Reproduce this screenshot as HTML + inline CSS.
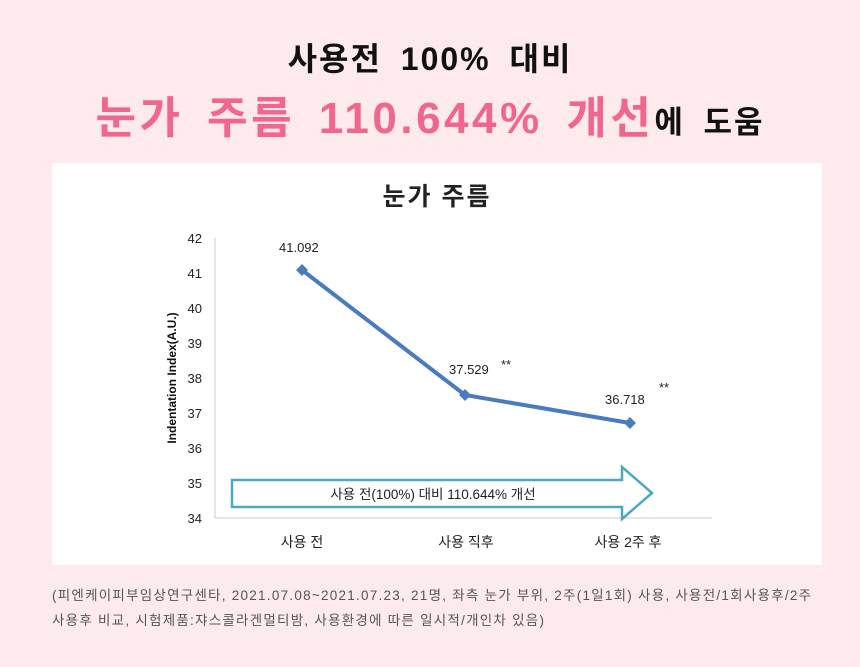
<!DOCTYPE html>
<html><head><meta charset="utf-8"><style>
body{margin:0;width:860px;height:667px;background:#fdeaec;font-family:"Liberation Sans","Noto Sans CJK KR",sans-serif;position:relative;overflow:hidden}
.t1{position:absolute;top:34px;left:0;width:860px;text-align:center;font-size:32px;font-weight:bold;color:#111;letter-spacing:2px;word-spacing:8px}
.t2{position:absolute;top:82px;left:0;width:860px;text-align:center;font-size:44px;font-weight:bold;color:#f0668f;letter-spacing:3.5px;word-spacing:8px;white-space:nowrap}
.t2 span{color:#111;font-size:31px;letter-spacing:2px}
.panel{position:absolute;left:52px;top:163px;width:770px;height:402px;background:#fff}
.note{position:absolute;left:52px;top:583px;width:800px;font-size:13.5px;color:#555;line-height:25px;letter-spacing:1.25px;white-space:nowrap}
</style></head><body>
<div class="t1">사용전 100% 대비</div>
<div class="t2">눈가 주름 110.644% 개선<span>에 도움</span></div>
<div class="panel"></div>
<svg style="position:absolute;left:0;top:0" width="860" height="667">
<text x="437" y="205" text-anchor="middle" font-size="25" font-weight="bold" letter-spacing="2" fill="#222" font-family="Liberation Sans,Noto Sans CJK KR,sans-serif">눈가 주름</text>
<g font-size="13" fill="#222" font-family="Liberation Sans,Noto Sans CJK KR,sans-serif" text-anchor="end">
<text x="202" y="243">42</text><text x="202" y="278">41</text><text x="202" y="313">40</text><text x="202" y="348">39</text><text x="202" y="383">38</text><text x="202" y="418">37</text><text x="202" y="453">36</text><text x="202" y="488">35</text><text x="202" y="523">34</text>
</g>
<text transform="translate(176,378) rotate(-90)" text-anchor="middle" font-size="12" font-weight="bold" fill="#111" font-family="Liberation Sans,sans-serif">Indentation Index(A.U.)</text>
<line x1="215" y1="238" x2="215" y2="518" stroke="#ccc"/>
<line x1="215" y1="518" x2="712" y2="518" stroke="#ccc"/>
<polyline points="302,270 465,395 630,423" fill="none" stroke="#4a7abf" stroke-width="4"/>
<g fill="#4a7abf"><path d="M302,264 L308,270 302,276 296,270Z"/><path d="M465,389 L471,395 465,401 459,395Z"/><path d="M630,417 L636,423 630,429 624,423Z"/></g>
<g font-size="13" fill="#222" font-family="Liberation Sans,sans-serif">
<text x="279" y="252">41.092</text><text x="449" y="374">37.529</text><text x="501" y="369">**</text>
<text x="605" y="404">36.718</text><text x="659" y="392">**</text></g>
<path d="M232,480 H622 V467 L652,493 L622,519 V507 H232Z" fill="#fff" stroke="#4aa8c0" stroke-width="2.5"/>
<text x="433" y="499" text-anchor="middle" font-size="13.5" fill="#222" font-family="Liberation Sans,Noto Sans CJK KR,sans-serif">사용 전(100%) 대비 110.644% 개선</text>
<g font-size="14" fill="#222" font-family="Liberation Sans,Noto Sans CJK KR,sans-serif" text-anchor="middle">
<text x="302" y="547">사용 전</text><text x="466" y="547">사용 직후</text><text x="628" y="547">사용 2주 후</text></g>
</svg>
<div class="note">(피엔케이피부임상연구센타, 2021.07.08~2021.07.23, 21명, 좌측 눈가 부위, 2주(1일1회) 사용, 사용전/1회사용후/2주<br>사용후 비교, 시험제품:쟈스콜라겐멀티밤, 사용환경에 따른 일시적/개인차 있음)</div>
</body></html>
